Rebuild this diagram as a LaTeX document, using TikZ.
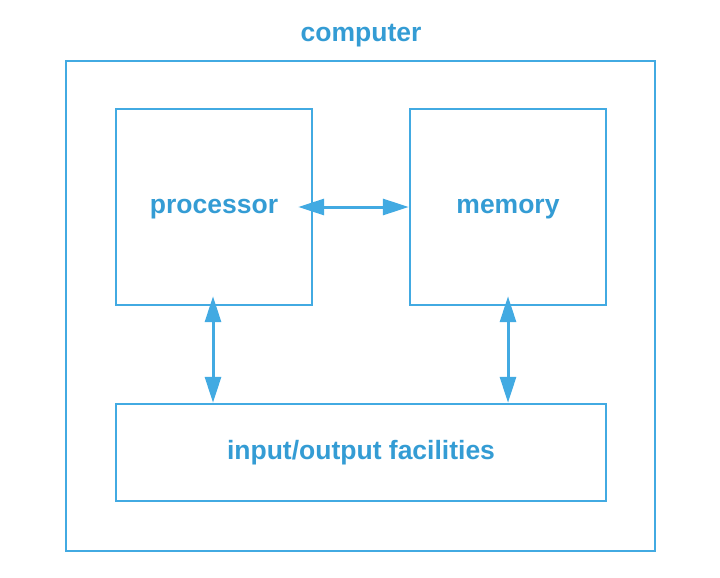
\documentclass[tikz,border=0pt]{standalone}
\usepackage{fontspec}
\setmainfont{Liberation Sans}
\usetikzlibrary{arrows.meta,calc}
\definecolor{cblue}{RGB}{66,170,226}
\definecolor{tblue}{RGB}{52,156,212}
\begin{document}
\begin{tikzpicture}[x=1pt,y=-1pt,
  txt/.style={font=\fontsize{26.5}{30}\selectfont\bfseries,text=tblue,
    text height=19pt,text depth=5.5pt},
  box/.style={draw=cblue,line width=2.4pt,inner sep=0pt,txt},
  lbl/.style={txt,inner sep=0pt},
  link/.style={draw=cblue,line width=3pt,
    {Triangle[length=26pt,width=16pt]}-{Triangle[length=26pt,width=16pt]}}]
\useasboundingbox (0,0) rectangle (720,578);
\node[box,minimum width=589pt,minimum height=490pt] (outer) at (360.5,306) {};
\node[lbl] (title) at (361,35) {computer};
\node[box,minimum width=196pt,minimum height=196pt] (proc) at (214,207) {processor};
\node[box,minimum width=196pt,minimum height=196pt] (mem) at (508,207) {memory};
\node[box,minimum width=490pt,minimum height=97pt] (io) at (361,452.5) {input/output facilities};
\coordinate (pa) at ($(proc.east)+(-15,0)$);
\coordinate (pb) at ($(proc.south)+(-1,-10)$);
\coordinate (ma) at ($(mem.south)+(0,-10)$);
\coordinate (ia) at (pb |- io.north);
\coordinate (ib) at (ma |- io.north);
\draw[link] (pa) -- (mem.west);
\draw[link] (pb) -- (ia);
\draw[link] (ma) -- (ib);
\end{tikzpicture}
\end{document}
